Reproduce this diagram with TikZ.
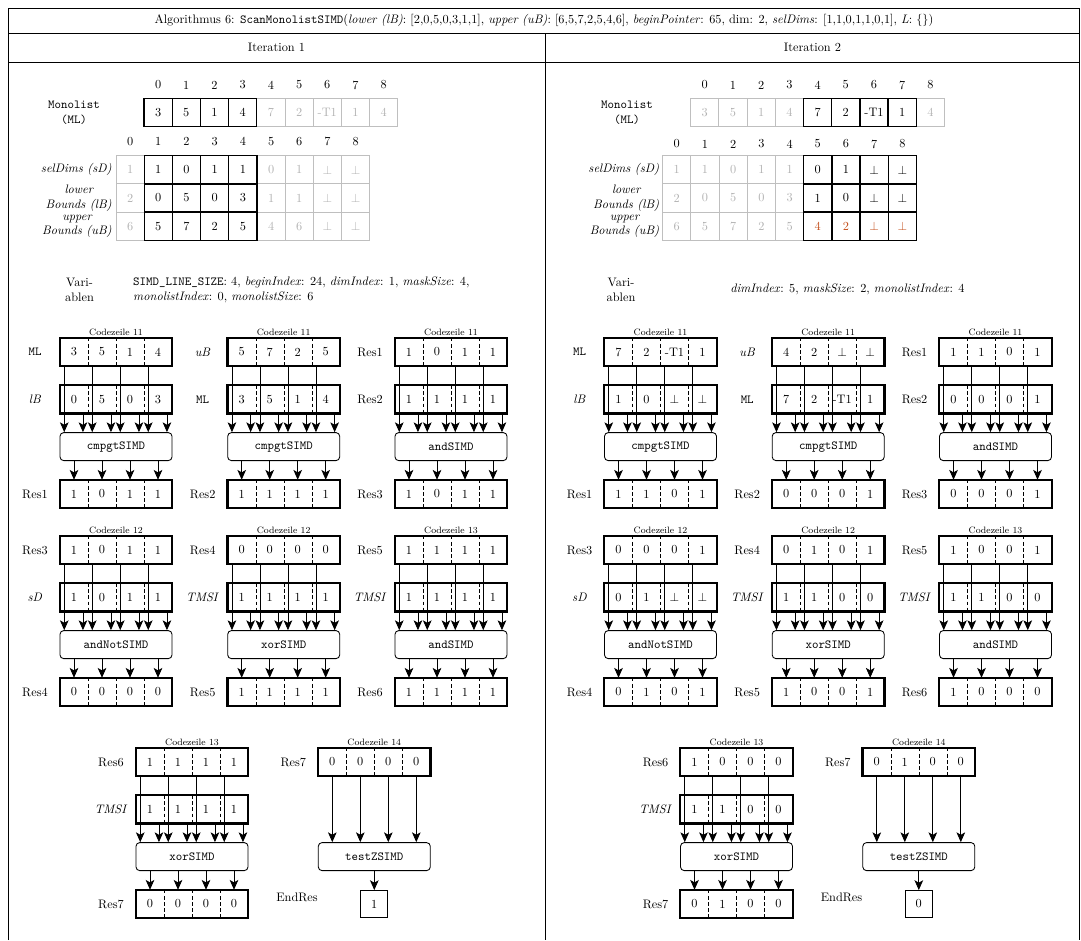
\documentclass[tikz,border=0pt]{standalone}
\usetikzlibrary{arrows.meta}

\definecolor{uBred}{RGB}{196,78,26}
\def\unitpx{0.813pt}

\tikzset{
  greycell/.style={draw=black!25, text=black!30, line width=0.8pt, minimum size=28.2*\unitpx, inner sep=0pt},
  blackcell/.style={draw=black, fill=white, line width=1pt, minimum size=28.2*\unitpx, inner sep=0pt},
  regcell/.style={minimum width=28*\unitpx, minimum height=28*\unitpx, inner sep=0pt},
  regframe/.style={line width=1.8pt},
  divider/.style={line width=0.6pt, dash pattern=on 3pt off 2pt},
  gate/.style={draw, rounded corners=3pt, line width=0.7pt, minimum width=112*\unitpx, minimum height=28*\unitpx, inner sep=0pt, font=\ttfamily},
  endbox/.style={draw, line width=0.7pt, minimum size=27*\unitpx, inner sep=0pt},
  reglabel/.style={inner sep=0pt},
  rowlabel/.style={anchor=east, align=center, inner sep=0pt, font=\itshape},
  idxlabel/.style={inner sep=0pt},
  codeline/.style={inner sep=0pt, font=\fontsize{7.5}{9}\selectfont},
  sarrow/.style={line width=0.7pt, -{Stealth[length=8pt, width=7pt, inset=2pt]}},
  frame/.style={line width=0.8pt},
}

% one table row: name, x left, y centre, values, first/last marked cell, colour of marked values
\newcommand{\cellrow}[7]{%
  \foreach \v [count=\k from 0] in {#4}{%
    \ifnum\k<#5\relax \node[greycell] (#1-\k) at (#2+28.2*\k+14.1,#3) {\v};\fi
    \ifnum\k>#6\relax \node[greycell] (#1-\k) at (#2+28.2*\k+14.1,#3) {\v};\fi}
  \foreach \v [count=\k from 0] in {#4}{%
    \ifnum\k<#5\relax\else\ifnum\k>#6\relax\else
      \node[blackcell, text=#7] (#1-\k) at (#2+28.2*\k+14.1,#3) {\v};\fi\fi}
}

% SIMD register: name, x left, y centre, label, values
\newcommand{\simdreg}[5]{%
  \foreach \v [count=\k] in {#5}
    \node[regcell] (#1-\k) at (#2+28*\k-14,#3) {\v};
  \foreach \k in {1,2,3}
    \draw[divider] (#1-\k.north east) -- (#1-\k.south east);
  \draw[regframe] (#1-1.north west) rectangle (#1-4.south east);
  \node[reglabel] (#1-lbl) at (#2-25,#3) {#4};
}

% code line, two inputs and the operation
\newcommand{\opblock}[9]{%
  \node[codeline] (#1-code) at (#2+56,#3-20) {Codezeile #4};
  \simdreg{#1-in1}{#2}{#3}{#5}{#6}
  \simdreg{#1-in2}{#2}{#3+47.3}{#7}{#8}
  \node[gate] (#1-op) at (#2+56,#3+94.6) {#9};
}

\newcommand{\simdwires}[4]{%
  \foreach \k in {1,...,4}{
    \draw[sarrow] ([xshift=4.5*\unitpx]#1-\k.south west) -- ([xshift=4.5*\unitpx]#1-\k.south west |- #3.north);
    \draw[sarrow] ([xshift=-5.3*\unitpx]#2-\k.south east) -- ([xshift=-5.3*\unitpx]#2-\k.south east |- #3.north);
    \draw[sarrow] (#3.south -| #4-\k) -- (#4-\k.north);
  }
}

\begin{document}
\begin{tikzpicture}[x=0.813pt, y=-0.813pt]
  \useasboundingbox (0,0) rectangle (1081,940);
  % table frame
  \draw[frame] (8,940) -- (8,8) -- (1079.5,8) -- (1079.5,940);
  \draw[frame] (8,33) -- (1079.5,33);
  \draw[frame] (8,62) -- (1079.5,62);
  \draw[frame] (545,33) -- (545,940);
  \node (title) at (544,20.5) {Algorithmus 6: \texttt{ScanMonolistSIMD}(\textit{lower (lB)}: [2,0,5,0,3,1,1], \textit{upper (uB)}: [6,5,7,2,5,4,6], \textit{beginPointer}: 65, dim: 2, \textit{selDims}: [1,1,0,1,1,0,1], \textit{L}: \{\})};
  \node (iter1) at (276.5,47.5) {Iteration 1};
  \node (iter2) at (812.5,47.5) {Iteration 2};

  % Iteration 1
  \foreach \k in {0,...,8} \node[idxlabel] (l-mlidx-\k) at (158.1+28.2*\k,85) {\k};
  \cellrow{l-ml}{144}{112.5}{3,5,1,4,7,2,-T1,1,4}{0}{3}{black}
  \node[align=center, font=\ttfamily] (l-mllbl) at (74,113) {Monolist\\(ML)};
  \foreach \k in {0,...,8} \node[idxlabel] (l-sdidx-\k) at (130.1+28.2*\k,141.7) {\k};
  \cellrow{l-sd}{116}{169.8}{1,1,0,1,1,0,1,$\bot$,$\bot$}{1}{4}{black}
  \cellrow{l-lb}{116}{198}{2,0,5,0,3,1,1,$\bot$,$\bot$}{1}{4}{black}
  \cellrow{l-ub}{116}{226.2}{6,5,7,2,5,4,6,$\bot$,$\bot$}{1}{4}{black}
  \node[rowlabel] (l-sdlbl) at (112,169.8) {selDims (sD)};
  \node[rowlabel] (l-lblbl) at (112,198) {lower\\Bounds (lB)};
  \node[rowlabel] (l-ublbl) at (112,226.2) {upper\\Bounds (uB)};

  \node[align=center] (l-varlbl) at (79.5,289.5) {Vari-\\ablen};
  \node[anchor=west, align=left, inner sep=0pt] (l-vars) at (133,289.5) {\texttt{SIMD\_LINE\_SIZE}: 4, \textit{beginIndex}: 24, \textit{dimIndex}: 1, \textit{maskSize}: 4,\\\textit{monolistIndex}: 0, \textit{monolistSize}: 6};

  \opblock{la}{60}{352}{11}{\texttt{ML}}{3,5,1,4}{\textit{lB}}{0,5,0,3}{cmpgtSIMD}
  \simdreg{la-out}{60}{494}{Res1}{1,0,1,1}
  \simdwires{la-in1}{la-in2}{la-op}{la-out}
  \opblock{lb}{227.7}{352}{11}{\textit{uB}}{5,7,2,5}{\texttt{ML}}{3,5,1,4}{cmpgtSIMD}
  \simdreg{lb-out}{227.7}{494}{Res2}{1,1,1,1}
  \simdwires{lb-in1}{lb-in2}{lb-op}{lb-out}
  \opblock{lc}{395}{352}{11}{Res1}{1,0,1,1}{Res2}{1,1,1,1}{andSIMD}
  \simdreg{lc-out}{395}{494}{Res3}{1,0,1,1}
  \simdwires{lc-in1}{lc-in2}{lc-op}{lc-out}

  \opblock{ld}{60}{550}{12}{Res3}{1,0,1,1}{\textit{sD}}{1,0,1,1}{andNotSIMD}
  \simdreg{ld-out}{60}{692}{Res4}{0,0,0,0}
  \simdwires{ld-in1}{ld-in2}{ld-op}{ld-out}
  \opblock{le}{227.7}{550}{12}{Res4}{0,0,0,0}{\textit{TMSI}}{1,1,1,1}{xorSIMD}
  \simdreg{le-out}{227.7}{692}{Res5}{1,1,1,1}
  \simdwires{le-in1}{le-in2}{le-op}{le-out}
  \opblock{lf}{395}{550}{13}{Res5}{1,1,1,1}{\textit{TMSI}}{1,1,1,1}{andSIMD}
  \simdreg{lf-out}{395}{692}{Res6}{1,1,1,1}
  \simdwires{lf-in1}{lf-in2}{lf-op}{lf-out}

  \opblock{lg}{136}{762}{13}{Res6}{1,1,1,1}{\textit{TMSI}}{1,1,1,1}{xorSIMD}
  \simdreg{lg-out}{136}{904}{Res7}{0,0,0,0}
  \simdwires{lg-in1}{lg-in2}{lg-op}{lg-out}

  \node[codeline] (lz-code) at (374.3,742) {Codezeile 14};
  \simdreg{lz-in}{318.3}{762}{Res7}{0,0,0,0}
  \node[gate] (lz-op) at (374.3,856.6) {testZSIMD};
  \node[endbox] (lz-out) at (374.3,904) {1};
  \node[reglabel] (lz-lbl) at (297,897) {EndRes};
  \foreach \k in {1,...,4} \draw[sarrow] (lz-in-\k.south) -- (lz-in-\k.south |- lz-op.north);
  \draw[sarrow] (lz-op) -- (lz-out);

  % Iteration 2
  \foreach \k in {0,...,8} \node[idxlabel] (r-mlidx-\k) at (704.8+28.2*\k,85) {\k};
  \cellrow{r-ml}{690.7}{112.5}{3,5,1,4,7,2,-T1,1,4}{4}{7}{black}
  \node[align=center, font=\ttfamily] (r-mllbl) at (627,113) {Monolist\\(ML)};
  \foreach \k in {0,...,8} \node[idxlabel] (r-sdidx-\k) at (676.8+28.2*\k,144) {\k};
  \cellrow{r-sd}{662.7}{169.8}{1,1,0,1,1,0,1,$\bot$,$\bot$}{5}{8}{black}
  \cellrow{r-lb}{662.7}{198}{2,0,5,0,3,1,0,$\bot$,$\bot$}{5}{8}{black}
  \cellrow{r-ub}{662.7}{226.2}{6,5,7,2,5,4,2,$\bot$,$\bot$}{5}{8}{uBred}
  \node[rowlabel] (r-sdlbl) at (659.5,169.8) {selDims (sD)};
  \node[rowlabel] (r-lblbl) at (659.5,198) {lower\\Bounds (lB)};
  \node[rowlabel] (r-ublbl) at (659.5,226.2) {upper\\Bounds (uB)};

  \node[align=center] (r-varlbl) at (621,289.5) {Vari-\\ablen};
  \node[anchor=west, inner sep=0pt] (r-vars) at (730,289.5) {\textit{dimIndex}: 5, \textit{maskSize}: 2, \textit{monolistIndex}: 4};

  \opblock{ra}{604.5}{352}{11}{\texttt{ML}}{7,2,-T1,1}{\textit{lB}}{1,0,$\bot$,$\bot$}{cmpgtSIMD}
  \simdreg{ra-out}{604.5}{494}{Res1}{1,1,0,1}
  \simdwires{ra-in1}{ra-in2}{ra-op}{ra-out}
  \opblock{rb}{772.2}{352}{11}{\textit{uB}}{4,2,$\bot$,$\bot$}{\texttt{ML}}{7,2,-T1,1}{cmpgtSIMD}
  \simdreg{rb-out}{772.2}{494}{Res2}{0,0,0,1}
  \simdwires{rb-in1}{rb-in2}{rb-op}{rb-out}
  \opblock{rc}{939.5}{352}{11}{Res1}{1,1,0,1}{Res2}{0,0,0,1}{andSIMD}
  \simdreg{rc-out}{939.5}{494}{Res3}{0,0,0,1}
  \simdwires{rc-in1}{rc-in2}{rc-op}{rc-out}

  \opblock{rd}{604.5}{550}{12}{Res3}{0,0,0,1}{\textit{sD}}{0,1,$\bot$,$\bot$}{andNotSIMD}
  \simdreg{rd-out}{604.5}{692}{Res4}{0,1,0,1}
  \simdwires{rd-in1}{rd-in2}{rd-op}{rd-out}
  \opblock{re}{772.2}{550}{12}{Res4}{0,1,0,1}{\textit{TMSI}}{1,1,0,0}{xorSIMD}
  \simdreg{re-out}{772.2}{692}{Res5}{1,0,0,1}
  \simdwires{re-in1}{re-in2}{re-op}{re-out}
  \opblock{rf}{939.5}{550}{13}{Res5}{1,0,0,1}{\textit{TMSI}}{1,1,0,0}{andSIMD}
  \simdreg{rf-out}{939.5}{692}{Res6}{1,0,0,0}
  \simdwires{rf-in1}{rf-in2}{rf-op}{rf-out}

  \opblock{rg}{680.5}{762}{13}{Res6}{1,0,0,0}{\textit{TMSI}}{1,1,0,0}{xorSIMD}
  \simdreg{rg-out}{680.5}{904}{Res7}{0,1,0,0}
  \simdwires{rg-in1}{rg-in2}{rg-op}{rg-out}

  \node[codeline] (rz-code) at (918.8,742) {Codezeile 14};
  \simdreg{rz-in}{862.8}{762}{Res7}{0,1,0,0}
  \node[gate] (rz-op) at (918.8,856.6) {testZSIMD};
  \node[endbox] (rz-out) at (918.8,904) {0};
  \node[reglabel] (rz-lbl) at (841.5,897) {EndRes};
  \foreach \k in {1,...,4} \draw[sarrow] (rz-in-\k.south) -- (rz-in-\k.south |- rz-op.north);
  \draw[sarrow] (rz-op) -- (rz-out);
\end{tikzpicture}
\end{document}
